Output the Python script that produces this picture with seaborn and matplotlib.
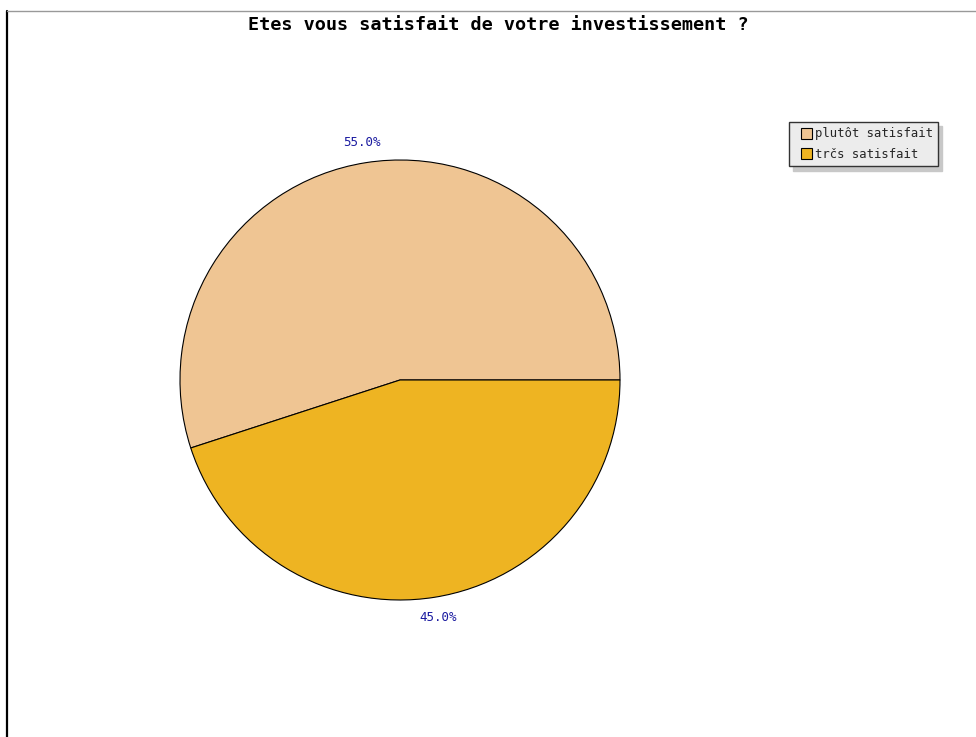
import matplotlib
matplotlib.use("Agg")
import matplotlib.pyplot as plt
from matplotlib.lines import Line2D
from matplotlib.patches import Rectangle
from matplotlib.legend_handler import HandlerPatch
import seaborn as sns

# Survey answers and their shares
categories = ["plutôt satisfait", "trčs satisfait"]
shares = [55.0, 45.0]
slice_colors = ["#efc593", "#eeb422"]
title_text = "Etes vous satisfait de votre investissement ?"

sns.set_theme(style="white")
plt.rcParams["font.family"] = ["DejaVu Sans Mono", "DejaVu Sans"]

W, H = 976, 737
fig = plt.figure(figsize=(W / 100, H / 100), dpi=100)
fig.patch.set_facecolor("white")

# Frame lines on the left and top edges
fig.add_artist(Line2D([7 / W, 7 / W], [0, 1 - 11 / H], color="black", lw=1.6,
                      transform=fig.transFigure))
fig.add_artist(Line2D([7 / W, 1], [1 - 11 / H, 1 - 11 / H], color="#999999", lw=1.0,
                      transform=fig.transFigure))

# Pie axes: centre at (400, 380) px, radius 220 px
cx, cy, r = 400, 380, 220
ax = fig.add_axes([(cx - r) / W, (H - cy - r) / H, 2 * r / W, 2 * r / H])
palette = sns.color_palette(slice_colors)
wedges, texts, autotexts = ax.pie(
    shares,
    colors=palette,
    startangle=0,
    counterclock=True,
    autopct="%.1f%%",
    pctdistance=1.095,
    radius=1.0,
    wedgeprops=dict(edgecolor="black", linewidth=0.8),
    textprops=dict(color="#1a1aa0", fontsize=9),
)
ax.set_xlim(-1, 1)
ax.set_ylim(-1, 1)
ax.set_aspect("equal")
ax.axis("off")

fig.text(498 / W, 1 - 25 / H, title_text, ha="center", va="center",
         fontsize=13.3, fontweight="bold", color="black")


# Square legend key placed at the right end of the handle slot
def square_key(legend, orig_handle, xdescent, ydescent, width, height, fontsize):
    side = height
    return Rectangle((-xdescent + width - side, -ydescent), side, side)


# Legend with a light drop shadow
leg = fig.legend(
    wedges, categories,
    loc="upper left",
    bbox_to_anchor=(789 / W, 1 - 122 / H),
    frameon=True, fancybox=False,
    shadow={"color": "#c8c8c8", "alpha": 1, "ox": 3, "oy": -3},
    fontsize=8.8,
    handlelength=1.45, handleheight=1.0, handletextpad=0.2,
    borderpad=0.45, labelspacing=0.6, borderaxespad=0,
    handler_map={w: HandlerPatch(patch_func=square_key) for w in wedges},
)
frame = leg.get_frame()
frame.set_facecolor("#ececec")
frame.set_edgecolor("#333333")
frame.set_linewidth(1.0)
frame.set_alpha(1)
for h in leg.legend_handles:
    h.set_edgecolor("black")
    h.set_linewidth(0.8)

fig.savefig("out.png", dpi=100, facecolor="white")
